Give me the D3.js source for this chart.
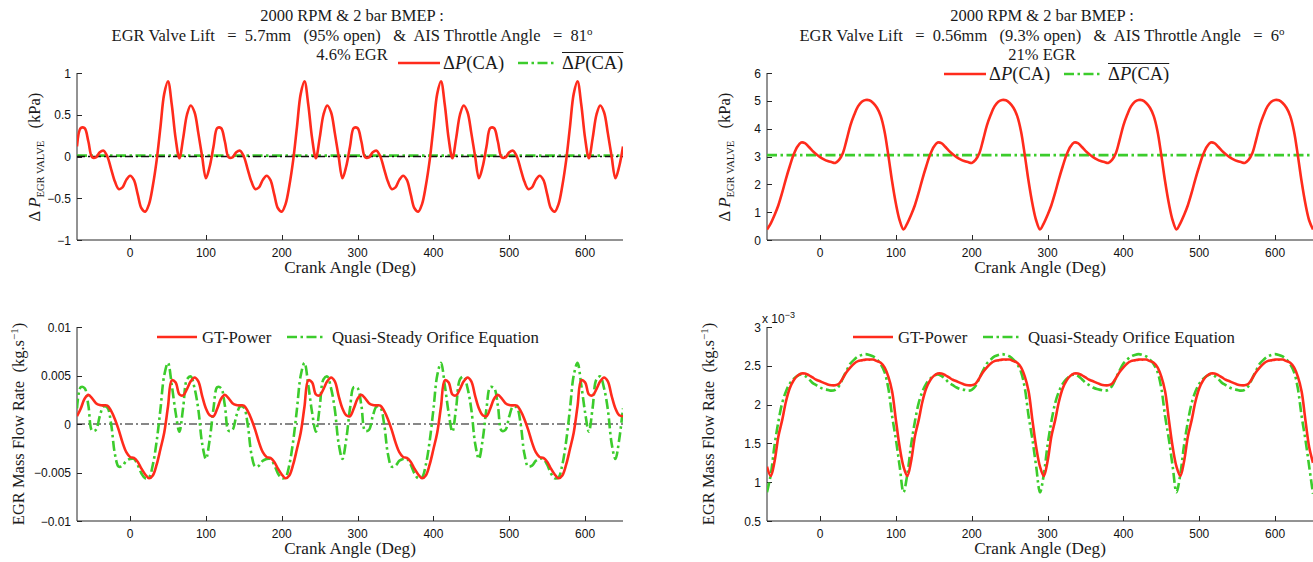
<!DOCTYPE html>
<html><head><meta charset="utf-8">
<script src="https://cdn.jsdelivr.net/npm/d3@7"></script>
<style>
html,body{margin:0;padding:0;background:#fff;}
svg{display:block;}
text{white-space:pre;}
.serif{font-family:"Liberation Serif","Times New Roman",serif;fill:#1a1a1a;}
.sans{font-family:"Liberation Sans",Arial,sans-serif;fill:#111;}
</style></head><body>
<svg id="chart" width="1313" height="562"></svg>
<script>
// ---------- DATA ----------
const crankAngle = d3.range(-70, 651, 5);   // deg, sampling grid
const xTicks = [0, 100, 200, 300, 400, 500, 600];

// Top-left: Delta P across EGR valve, 95% open (kPa)
const dpOpen = [
 0.12,0.34,0.34,0.18,-0.01,-0.01,0.05,0.07,0.00,-0.15,-0.30,-0.39,-0.37,-0.28,-0.23,-0.28,-0.45,-0.62,-0.66,-0.57,-0.35,-0.05,0.35,0.75,0.90,0.62,0.22,-0.02,0.22,0.50,0.61,0.53,0.28,0.00,-0.26,-0.12,
 0.12,0.34,0.34,0.18,-0.01,-0.01,0.05,0.07,0.00,-0.15,-0.30,-0.39,-0.37,-0.28,-0.23,-0.28,-0.45,-0.62,-0.66,-0.57,-0.35,-0.05,0.35,0.75,0.90,0.62,0.22,-0.02,0.22,0.50,0.61,0.53,0.28,0.00,-0.26,-0.12,
 0.12,0.34,0.34,0.18,-0.01,-0.01,0.05,0.07,0.00,-0.15,-0.30,-0.39,-0.37,-0.28,-0.23,-0.28,-0.45,-0.62,-0.66,-0.57,-0.35,-0.05,0.35,0.75,0.90,0.62,0.22,-0.02,0.22,0.50,0.61,0.53,0.28,0.00,-0.26,-0.12,
 0.12,0.34,0.34,0.18,-0.01,-0.01,0.05,0.07,0.00,-0.15,-0.30,-0.39,-0.37,-0.28,-0.23,-0.28,-0.45,-0.62,-0.66,-0.57,-0.35,-0.05,0.35,0.75,0.90,0.62,0.22,-0.02,0.22,0.50,0.61,0.53,0.28,0.00,-0.26,-0.12,
 0.12];
const dpOpenMean = 0.01;
const dpOpenTicks = [-1, -0.5, 0, 0.5, 1];

// Top-right: Delta P across EGR valve, 9.3% open (kPa)
const dpClosed = [
 0.38,0.60,0.90,1.25,1.70,2.20,2.65,3.06,3.35,3.50,3.48,3.35,3.20,3.08,2.98,2.90,2.84,2.80,2.77,2.88,3.12,3.60,4.12,4.50,4.80,4.97,5.03,5.02,4.92,4.75,4.45,3.90,3.04,2.10,1.30,0.70,
 0.38,0.60,0.90,1.25,1.70,2.20,2.65,3.06,3.35,3.50,3.48,3.35,3.20,3.08,2.98,2.90,2.84,2.80,2.77,2.88,3.12,3.60,4.12,4.50,4.80,4.97,5.03,5.02,4.92,4.75,4.45,3.90,3.04,2.10,1.30,0.70,
 0.38,0.60,0.90,1.25,1.70,2.20,2.65,3.06,3.35,3.50,3.48,3.35,3.20,3.08,2.98,2.90,2.84,2.80,2.77,2.88,3.12,3.60,4.12,4.50,4.80,4.97,5.03,5.02,4.92,4.75,4.45,3.90,3.04,2.10,1.30,0.70,
 0.38,0.60,0.90,1.25,1.70,2.20,2.65,3.06,3.35,3.50,3.48,3.35,3.20,3.08,2.98,2.90,2.84,2.80,2.77,2.88,3.12,3.60,4.12,4.50,4.80,4.97,5.03,5.02,4.92,4.75,4.45,3.90,3.04,2.10,1.30,0.70,
 0.38];
const dpClosedMean = 3.05;
const dpClosedTicks = [0, 1, 2, 3, 4, 5, 6];

// Bottom-left: EGR mass flow (x1e-3 kg/s), 95% open
const gtOpen = [
 0.80,1.60,2.60,3.00,2.65,2.15,1.95,1.92,1.90,1.35,0.50,-0.60,-1.90,-2.90,-3.40,-3.50,-3.90,-4.60,-5.20,-5.60,-5.30,-4.20,-2.60,-0.90,1.80,4.50,4.30,3.05,2.95,3.60,4.40,4.80,4.40,2.90,1.60,0.90,
 0.80,1.60,2.60,3.00,2.65,2.15,1.95,1.92,1.90,1.35,0.50,-0.60,-1.90,-2.90,-3.40,-3.50,-3.90,-4.60,-5.20,-5.60,-5.30,-4.20,-2.60,-0.90,1.80,4.50,4.30,3.05,2.95,3.60,4.40,4.80,4.40,2.90,1.60,0.90,
 0.80,1.60,2.60,3.00,2.65,2.15,1.95,1.92,1.90,1.35,0.50,-0.60,-1.90,-2.90,-3.40,-3.50,-3.90,-4.60,-5.20,-5.60,-5.30,-4.20,-2.60,-0.90,1.80,4.50,4.30,3.05,2.95,3.60,4.40,4.80,4.40,2.90,1.60,0.90,
 0.80,1.60,2.60,3.00,2.65,2.15,1.95,1.92,1.90,1.35,0.50,-0.60,-1.90,-2.90,-3.40,-3.50,-3.90,-4.60,-5.20,-5.60,-5.30,-4.20,-2.60,-0.90,1.80,4.50,4.30,3.05,2.95,3.60,4.40,4.80,4.40,2.90,1.60,0.90,
 0.80];
const qsOpen = [
 1.60,3.80,3.70,1.90,-0.70,-0.60,0.80,1.80,1.70,0.00,-3.10,-4.40,-4.30,-3.80,-3.60,-3.60,-4.20,-5.10,-5.60,-5.50,-4.20,-1.80,1.50,5.00,6.30,4.00,1.20,-0.80,1.70,4.60,4.90,3.70,1.50,-2.00,-3.60,-1.60,
 1.60,3.80,3.70,1.90,-0.70,-0.60,0.80,1.80,1.70,0.00,-3.10,-4.40,-4.30,-3.80,-3.60,-3.60,-4.20,-5.10,-5.60,-5.50,-4.20,-1.80,1.50,5.00,6.30,4.00,1.20,-0.80,1.70,4.60,4.90,3.70,1.50,-2.00,-3.60,-1.60,
 1.60,3.80,3.70,1.90,-0.70,-0.60,0.80,1.80,1.70,0.00,-3.10,-4.40,-4.30,-3.80,-3.60,-3.60,-4.20,-5.10,-5.60,-5.50,-4.20,-1.80,1.50,5.00,6.30,4.00,1.20,-0.80,1.70,4.60,4.90,3.70,1.50,-2.00,-3.60,-1.60,
 1.60,3.80,3.70,1.90,-0.70,-0.60,0.80,1.80,1.70,0.00,-3.10,-4.40,-4.30,-3.80,-3.60,-3.60,-4.20,-5.10,-5.60,-5.50,-4.20,-1.80,1.50,5.00,6.30,4.00,1.20,-0.80,1.70,4.60,4.90,3.70,1.50,-2.00,-3.60,-1.60,
 1.60];
const mOpenTicks = [-10, -5, 0, 5, 10];
const mOpenTickLabels = ["\u22120.01", "\u22120.005", "0", "0.005", "0.01"];

// Bottom-right: EGR mass flow (x1e-3 kg/s), 9.3% open
const gtClosed = [
 1.20,1.08,1.27,1.59,1.80,2.04,2.21,2.31,2.37,2.40,2.40,2.38,2.35,2.32,2.30,2.28,2.26,2.25,2.25,2.27,2.34,2.42,2.48,2.53,2.56,2.57,2.58,2.58,2.58,2.56,2.54,2.48,2.36,2.17,1.80,1.45,
 1.20,1.08,1.27,1.59,1.80,2.04,2.21,2.31,2.37,2.40,2.40,2.38,2.35,2.32,2.30,2.28,2.26,2.25,2.25,2.27,2.34,2.42,2.48,2.53,2.56,2.57,2.58,2.58,2.58,2.56,2.54,2.48,2.36,2.17,1.80,1.45,
 1.20,1.08,1.27,1.59,1.80,2.04,2.21,2.31,2.37,2.40,2.40,2.38,2.35,2.32,2.30,2.28,2.26,2.25,2.25,2.27,2.34,2.42,2.48,2.53,2.56,2.57,2.58,2.58,2.58,2.56,2.54,2.48,2.36,2.17,1.80,1.45,
 1.20,1.08,1.27,1.59,1.80,2.04,2.21,2.31,2.37,2.40,2.40,2.38,2.35,2.32,2.30,2.28,2.26,2.25,2.25,2.27,2.34,2.42,2.48,2.53,2.56,2.57,2.58,2.58,2.58,2.56,2.54,2.48,2.36,2.17,1.80,1.45,
 1.25];
const qsClosed = [
 0.87,1.10,1.48,1.78,2.02,2.17,2.27,2.33,2.37,2.39,2.37,2.33,2.28,2.25,2.22,2.20,2.19,2.18,2.19,2.24,2.34,2.44,2.53,2.58,2.62,2.64,2.65,2.64,2.62,2.58,2.52,2.42,2.21,1.85,1.55,1.20,
 0.87,1.10,1.48,1.78,2.02,2.17,2.27,2.33,2.37,2.39,2.37,2.33,2.28,2.25,2.22,2.20,2.19,2.18,2.19,2.24,2.34,2.44,2.53,2.58,2.62,2.64,2.65,2.64,2.62,2.58,2.52,2.42,2.21,1.85,1.55,1.20,
 0.87,1.10,1.48,1.78,2.02,2.17,2.27,2.33,2.37,2.39,2.37,2.33,2.28,2.25,2.22,2.20,2.19,2.18,2.19,2.24,2.34,2.44,2.53,2.58,2.62,2.64,2.65,2.64,2.62,2.58,2.52,2.42,2.21,1.85,1.55,1.20,
 0.87,1.10,1.48,1.78,2.02,2.17,2.27,2.33,2.37,2.39,2.37,2.33,2.28,2.25,2.22,2.20,2.19,2.18,2.19,2.24,2.34,2.44,2.53,2.58,2.62,2.64,2.65,2.64,2.62,2.58,2.52,2.42,2.21,1.85,1.55,1.20,
 0.85];
const mClosedTicks = [0.5, 1, 1.5, 2, 2.5, 3];

const titleOpen = ["2000 RPM & 2 bar BMEP :", "EGR Valve Lift   =  5.7mm   (95% open)   &  AIS Throttle Angle   =  81", "4.6% EGR"];
const titleClosed = ["2000 RPM & 2 bar BMEP :", "EGR Valve Lift   =  0.56mm   (9.3% open)   &  AIS Throttle Angle   =  6", "21% EGR"];
const legendGT = ["GT-Power", "Quasi-Steady Orifice Equation"];

// ---------- STYLE ----------
const RED = "#ff2b1c", GREEN = "#3ccc2c", AXIS = "#262626";
const DASHDOT = "10,3.5,2.5,3.5";
const svg = d3.select("#chart");
const defs = svg.append("defs");

function makePanel(o) {
  const x = d3.scaleLinear().domain([-70, 650]).range([o.x0, o.x1]);
  const y = d3.scaleLinear().domain(o.yDomain).range([o.y1, o.y0]);
  const g = svg.append("g");
  const cid = "clip" + o.id;
  defs.append("clipPath").attr("id", cid).append("rect")
    .attr("x", o.x0).attr("y", o.y0 - 2).attr("width", o.x1 - o.x0).attr("height", o.y1 - o.y0 + 4);
  g.append("line").attr("x1", o.x0).attr("x2", o.x0).attr("y1", o.y0).attr("y2", o.y1).attr("stroke", AXIS).attr("stroke-width", 1);
  g.append("line").attr("x1", o.x0).attr("x2", o.x1).attr("y1", o.y1).attr("y2", o.y1).attr("stroke", AXIS).attr("stroke-width", 1);
  xTicks.forEach(t => {
    const px = Math.round(x(t)) + 0.5;
    g.append("line").attr("x1", px).attr("x2", px).attr("y1", o.y1).attr("y2", o.y1 - 5).attr("stroke", AXIS);
    g.append("text").attr("class", "sans").attr("x", x(t)).attr("y", o.y1 + 17).attr("text-anchor", "middle").attr("font-size", 12).text(t);
  });
  o.yTicks.forEach((t, i) => {
    const py = Math.round(y(t)) + 0.5;
    g.append("line").attr("x1", o.x0).attr("x2", o.x0 + 5).attr("y1", py).attr("y2", py).attr("stroke", AXIS);
    g.append("text").attr("class", "sans").attr("x", o.x0 - 6).attr("y", y(t) + 4.5).attr("text-anchor", "end").attr("font-size", 12).text(o.yLabels[i]);
  });
  g.append("text").attr("class", "serif").attr("x", o.x0 + 273).attr("y", o.y1 + 33)
    .attr("text-anchor", "middle").attr("font-size", 17.2).text("Crank Angle (Deg)");
  const plot = g.append("g").attr("clip-path", `url(#${cid})`);
  return { x, y, g, plot };
}

function drawLine(p, vals, color, width, dash) {
  const line = d3.line().x((d, i) => p.x(crankAngle[i])).y(d => p.y(d)).curve(d3.curveCatmullRom.alpha(0.5));
  const path = p.plot.append("path").datum(vals).attr("d", line).attr("fill", "none")
    .attr("stroke", color).attr("stroke-width", width).attr("stroke-linejoin", "round");
  if (dash) path.attr("stroke-dasharray", dash);
}
function hLine(p, v, color, width, dash) {
  p.plot.append("line").attr("x1", p.x(-70)).attr("x2", p.x(650)).attr("y1", p.y(v)).attr("y2", p.y(v))
    .attr("stroke", color).attr("stroke-width", width).attr("stroke-dasharray", dash);
}
function title(lines, cx) {
  lines.forEach((l, i) => {
    const t = svg.append("text").attr("class", "serif").attr("x", cx).attr("y", 21 + i * 19.5)
      .attr("text-anchor", "middle").attr("font-size", 16.5);
    t.append("tspan").text(l);
    if (i === 1) t.append("tspan").attr("dy", -6).attr("font-size", 11).text("o");
  });
}
function dpLabel(xb, yc) {
  const t = svg.append("text").attr("class", "serif").attr("transform", `translate(${xb},${yc}) rotate(-90)`)
    .attr("text-anchor", "middle").attr("font-size", 16.5);
  t.append("tspan").text("\u0394 ");
  t.append("tspan").attr("font-style", "italic").text("P");
  t.append("tspan").attr("dy", 4).attr("font-size", 10.5).text("EGR VALVE");
  t.append("tspan").attr("dy", -4).text("   (kPa)");
}
function mLabel(xb, yc) {
  const t = svg.append("text").attr("class", "serif").attr("transform", `translate(${xb},${yc}) rotate(-90)`)
    .attr("text-anchor", "middle").attr("font-size", 16.5);
  t.append("tspan").text("EGR Mass Flow Rate  (kg.s");
  t.append("tspan").attr("dy", -6).attr("font-size", 11).text("\u22121");
  t.append("tspan").attr("dy", 6).text(")");
}
function dpLegend(x, y) {
  svg.append("line").attr("x1", x).attr("x2", x + 42).attr("y1", y).attr("y2", y).attr("stroke", RED).attr("stroke-width", 2.6);
  const t1 = svg.append("text").attr("class", "serif").attr("x", x + 45).attr("y", y + 5.5).attr("font-size", 18.5);
  t1.append("tspan").text("\u0394");
  t1.append("tspan").attr("font-style", "italic").text("P");
  t1.append("tspan").text("(CA)");
  svg.append("line").attr("x1", x + 120).attr("x2", x + 158).attr("y1", y).attr("y2", y).attr("stroke", GREEN).attr("stroke-width", 2.6).attr("stroke-dasharray", DASHDOT);
  const t2 = svg.append("text").attr("class", "serif").attr("x", x + 164).attr("y", y + 5.5).attr("font-size", 18.5);
  t2.append("tspan").text("\u0394");
  t2.append("tspan").attr("font-style", "italic").text("P");
  t2.append("tspan").text("(CA)");
  const bb = t2.node().getBBox();
  svg.append("line").attr("x1", bb.x).attr("x2", bb.x + bb.width).attr("y1", y - 10.5).attr("y2", y - 10.5).attr("stroke", "#1a1a1a").attr("stroke-width", 1);
}
function gtLegend(x, y) {
  svg.append("line").attr("x1", x).attr("x2", x + 40).attr("y1", y).attr("y2", y).attr("stroke", RED).attr("stroke-width", 2.6);
  svg.append("text").attr("class", "serif").attr("x", x + 45).attr("y", y + 5.5).attr("font-size", 16.8).text(legendGT[0]);
  svg.append("line").attr("x1", x + 130).attr("x2", x + 168).attr("y1", y).attr("y2", y).attr("stroke", GREEN).attr("stroke-width", 2.6).attr("stroke-dasharray", DASHDOT);
  svg.append("text").attr("class", "serif").attr("x", x + 175).attr("y", y + 5.5).attr("font-size", 16.8).text(legendGT[1]);
}

// ---------- PANELS ----------
const fmt = d => d < 0 ? "\u2212" + Math.abs(d) : String(d);

const pTL = makePanel({ id: "TL", x0: 77, x1: 623, y0: 73, y1: 240, yDomain: [-1, 1], yTicks: dpOpenTicks, yLabels: dpOpenTicks.map(fmt) });
hLine(pTL, dpOpenMean, GREEN, 2.6, DASHDOT);
hLine(pTL, 0, "#111", 1.4, "8,3,2,3");
drawLine(pTL, dpOpen, RED, 2.6);
title(titleOpen, 352);
dpLabel(40, 157);
dpLegend(398, 63);

const pTR = makePanel({ id: "TR", x0: 767, x1: 1313, y0: 73, y1: 240, yDomain: [0, 6], yTicks: dpClosedTicks, yLabels: dpClosedTicks.map(fmt) });
hLine(pTR, dpClosedMean, GREEN, 2.6, DASHDOT);
drawLine(pTR, dpClosed, RED, 2.6);
title(titleClosed, 1042);
dpLabel(730, 157);
dpLegend(944, 74);

const pBL = makePanel({ id: "BL", x0: 77, x1: 623, y0: 327, y1: 521, yDomain: [-10, 10], yTicks: mOpenTicks, yLabels: mOpenTickLabels });
hLine(pBL, 0, "#111", 1.2, "8,3,2,3");
drawLine(pBL, qsOpen, GREEN, 2.6, DASHDOT);
drawLine(pBL, gtOpen, RED, 2.6);
mLabel(24, 424);
gtLegend(157, 337);

const pBR = makePanel({ id: "BR", x0: 767, x1: 1313, y0: 327, y1: 521, yDomain: [0.5, 3], yTicks: mClosedTicks, yLabels: mClosedTicks.map(fmt) });
drawLine(pBR, qsClosed, GREEN, 2.6, DASHDOT);
drawLine(pBR, gtClosed, RED, 2.6);
mLabel(714, 424);
gtLegend(853, 337);
const ex = svg.append("text").attr("class", "sans").attr("x", 762).attr("y", 323).attr("font-size", 12);
ex.append("tspan").text("x 10");
ex.append("tspan").attr("dy", -5).attr("font-size", 9).text("\u22123");
</script>
</body></html>
